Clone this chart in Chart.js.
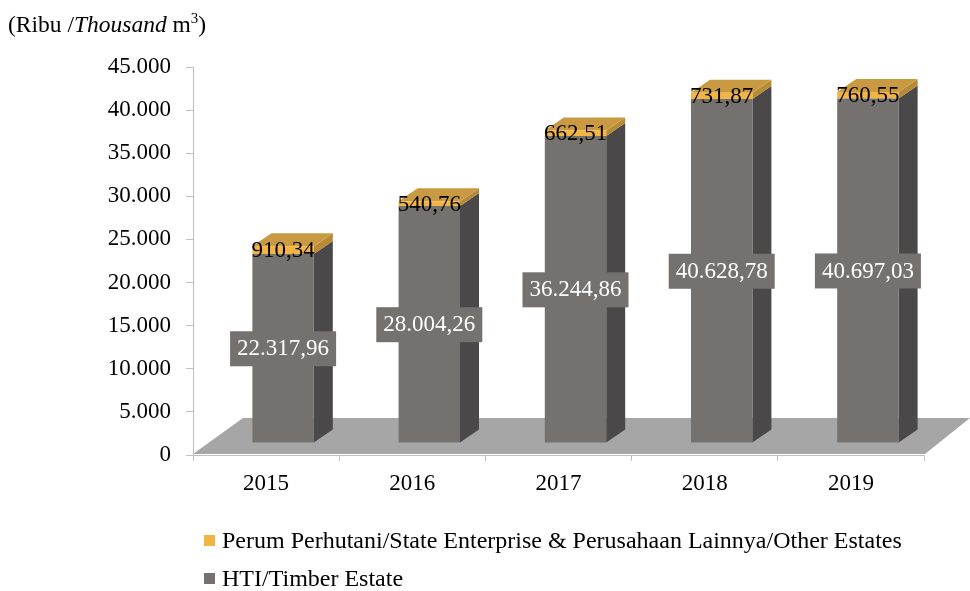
<!DOCTYPE html>
<html lang="id">

<head>
    <meta charset="UTF-8" />
    <title>Produksi Kayu Bulat</title>
    <style>
        body {
            margin: 0;
            background: #fff;
            font-family: "Liberation Serif", "Times New Roman", serif;
            color: #000;
        }

        #wrap {
            position: relative;
            width: 970px;
            height: 591px;
        }

        #unit {
            position: absolute;
            left: 8px;
            top: 13px;
            font-size: 23.5px;
            line-height: 22px;
            white-space: nowrap;
        }

        #unit .sup {
            position: relative;
            top: -9px;
            font-size: 15px;
        }

        #legend {
            position: absolute;
            left: 204px;
            top: 521px;
            font-size: 24px;
        }

        .item {
            height: 38px;
            display: flex;
            align-items: center;
            white-space: nowrap;
        }

        .box {
            width: 11px;
            height: 11px;
            margin-right: 7px;
        }
    </style>
    <script src="https://cdn.jsdelivr.net/npm/chart.js"></script>
</head>

<body>
    <div id="wrap">
        <canvas id="chart" width="970" height="591"></canvas>
        <div id="unit">(Ribu /<i>Thousand</i> m<span class="sup">3</span>)</div>
        <div id="legend"></div>
    </div>

    <script>
        // data
        const years = ['2015', '2016', '2017', '2018', '2019'];
        const hti = [22317.96, 28004.26, 36244.86, 40628.78, 40697.03];
        const perum = [910.34, 540.76, 662.51, 731.87, 760.55];
        const labelHti = 'HTI/Timber Estate';
        const labelPerum = 'Perum Perhutani/State Enterprise & Perusahaan Lainnya/Other Estates';

        // couleurs des faces
        const front = ['#74716f', '#f2b544'];
        const side = ['#4a4848', '#b88a36'];
        const topFace = '#c99a42';
        const floorColor = '#a6a6a6';
        const FONT = '"Liberation Serif", "Times New Roman", serif';
        const FSIZE = 23;

        // décalage 3D
        const DX = 17, DY = -12, SQ = 0.982;
        const SX = 19, SY = -13;

        function fmt(v, dec) {
            const parts = v.toFixed(dec).split('.');
            const int = parts[0].replace(/\B(?=(\d{3})+(?!\d))/g, '.');
            return dec ? int + ',' + parts[1] : int;
        }

        function poly(ctx, pts, color) {
            ctx.beginPath();
            ctx.moveTo(pts[0][0], pts[0][1]);
            for (let i = 1; i < pts.length; i++) ctx.lineTo(pts[i][0], pts[i][1]);
            ctx.closePath();
            ctx.fillStyle = color;
            ctx.fill();
        }

        function barBox(chart, el) {
            const p = el.getProps(['x', 'y', 'base', 'width'], true);
            const base = chart.scales.y.bottom;
            const lift = y => base + (y - base) * SQ + DY;
            return {
                x0: p.x - p.width / 2 + DX,
                x1: p.x + p.width / 2 + DX,
                top: lift(p.y),
                bot: lift(p.base)
            };
        }

        const bars3d = {
            id: 'bars3d',
            beforeDraw(chart) {
                // plancher
                const a = chart.chartArea;
                const ctx = chart.ctx;
                poly(ctx, [
                    [a.left, a.bottom - 1],
                    [a.right + 1, a.bottom - 1],
                    [a.right + 46, a.bottom - 37],
                    [a.left + 50, a.bottom - 37]
                ], floorColor);
            },
            beforeDatasetsDraw(chart) {
                const ctx = chart.ctx;
                const last = chart.data.datasets.length - 1;
                chart.data.datasets.forEach((ds, di) => {
                    chart.getDatasetMeta(di).data.forEach(el => {
                        const b = barBox(chart, el);
                        poly(ctx, [[b.x1, b.top], [b.x1 + SX, b.top + SY], [b.x1 + SX, b.bot + SY], [b.x1, b.bot]], side[di]);
                        if (di === last) {
                            poly(ctx, [[b.x0, b.top], [b.x1, b.top], [b.x1 + SX, b.top + SY], [b.x0 + SX, b.top + SY]], topFace);
                        }
                    });
                });
                const base = chart.scales.y.bottom;
                ctx.save();
                ctx.translate(DX, base + DY);
                ctx.scale(1, SQ);
                ctx.translate(0, -base);
            },
            afterDatasetsDraw(chart) {
                const ctx = chart.ctx;
                ctx.restore();
                ctx.save();
                ctx.font = FSIZE + 'px ' + FONT;
                ctx.textAlign = 'center';
                ctx.textBaseline = 'middle';
                chart.getDatasetMeta(0).data.forEach((el, i) => {
                    const b = barBox(chart, el);
                    const t = fmt(hti[i], 2);
                    const w = ctx.measureText(t).width + 14;
                    const cx = (b.x0 + b.x1) / 2, cy = (b.top + b.bot) / 2;
                    ctx.fillStyle = front[0];
                    ctx.fillRect(cx - w / 2, cy - 17, w, 35);
                    ctx.fillStyle = '#fff';
                    ctx.fillText(t, cx, cy + 1);
                });
                chart.getDatasetMeta(1).data.forEach((el, i) => {
                    const b = barBox(chart, el);
                    ctx.fillStyle = '#000';
                    ctx.fillText(fmt(perum[i], 2), (b.x0 + b.x1) / 2, (b.top + b.bot) / 2 + 1);
                });
                ctx.restore();
            }
        };

        const chart = new Chart(document.getElementById('chart'), {
            type: 'bar',
            data: {
                labels: years,
                datasets: [{
                    label: labelHti,
                    data: hti,
                    backgroundColor: front[0],
                    barPercentage: 0.42,
                    categoryPercentage: 1
                }, {
                    label: labelPerum,
                    data: perum,
                    backgroundColor: front[1],
                    barPercentage: 0.42,
                    categoryPercentage: 1
                }]
            },
            options: {
                responsive: false,
                animation: false,
                clip: false,
                layout: { padding: { top: 67, right: 46, bottom: 0, left: 0 } },
                plugins: {
                    legend: { display: false },
                    tooltip: { enabled: false }
                },
                scales: {
                    x: {
                        stacked: true,
                        grid: { drawOnChartArea: false, tickLength: 6, color: '#bfbfbf', offset: true },
                        border: { color: '#bfbfbf' },
                        ticks: { color: '#000', padding: 9, font: { family: FONT, size: FSIZE } },
                        afterFit(s) { s.height = 136; }
                    },
                    y: {
                        stacked: true,
                        min: 0,
                        max: 45000,
                        grid: { drawOnChartArea: false, tickLength: 7, color: '#bfbfbf' },
                        border: { color: '#bfbfbf' },
                        ticks: {
                            stepSize: 5000,
                            color: '#000',
                            padding: 15,
                            font: { family: FONT, size: FSIZE },
                            callback: v => fmt(v, 0)
                        },
                        afterFit(s) { s.width = 193; }
                    }
                }
            },
            plugins: [bars3d]
        });

        // légende HTML (ordre inversé comme l'original)
        const legend = document.getElementById('legend');
        chart.data.datasets.slice().reverse().forEach(ds => {
            const row = document.createElement('div');
            row.className = 'item';
            const box = document.createElement('span');
            box.className = 'box';
            box.style.background = ds.backgroundColor;
            const txt = document.createElement('span');
            txt.textContent = ds.label;
            row.appendChild(box);
            row.appendChild(txt);
            legend.appendChild(row);
        });
    </script>
</body>

</html>
